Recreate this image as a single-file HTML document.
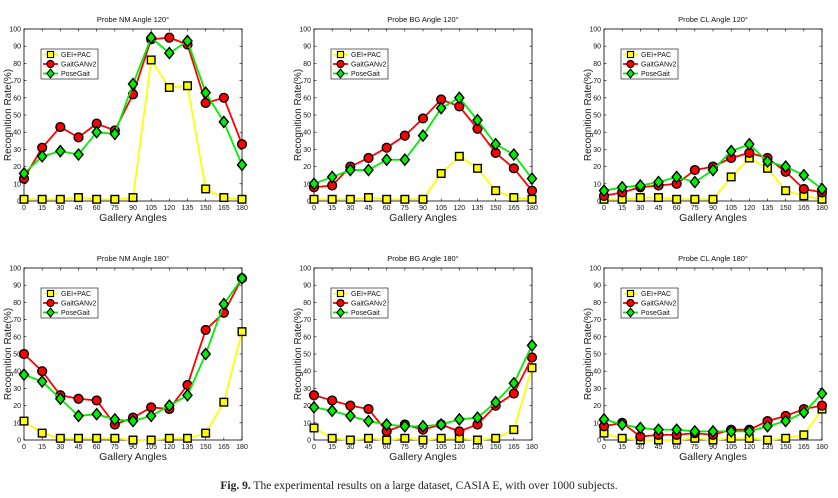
<!DOCTYPE html>
<html><head><meta charset="utf-8"><style>
html,body{margin:0;padding:0;background:#fff;}
svg{display:block;font-family:"Liberation Sans",sans-serif;}
</style></head><body>
<svg id="fig" width="838" height="498" viewBox="0 0 838 498">
<text x="419" y="489" text-anchor="middle" font-family="Liberation Serif" font-size="11.5" fill="#222"><tspan font-weight="bold">Fig. 9.</tspan>  The experimental results on a large dataset, CASIA E, with over 1000 subjects.</text>
</svg>
<script>
const categories = [0,15,30,45,60,75,90,105,120,135,150,165,180];
const yTicks = [0,10,20,30,40,50,60,70,80,90,100];
const seriesNames = ["GEI+PAC","GaitGANv2","PoseGait"];
const titles = ["Probe NM Angle 120°","Probe BG Angle 120°","Probe CL Angle 120°","Probe NM Angle 180°","Probe BG Angle 180°","Probe CL Angle 180°"];
const geiPac = [
 [1,1,1,2,1,1,2,82,66,67,7,2,1],
 [1,1,1,2,1,1,1,16,26,19,6,2,1],
 [1,1,2,2,1,1,1,14,25,19,6,3,1],
 [11,4,1,1,1,1,0,0,1,1,4,22,63],
 [7,1,0,1,0,1,0,1,1,0,1,6,42],
 [4,1,0,0,0,1,0,1,1,0,1,3,18]];
const gaitGan = [
 [13,31,43,37,45,41,62,94,95,91,57,60,33],
 [8,9,20,25,31,38,48,59,55,42,28,19,6],
 [3,5,8,9,10,18,20,25,28,25,17,7,5],
 [50,40,26,24,23,9,13,19,18,32,64,74,94],
 [26,23,20,18,5,9,6,9,5,9,20,27,48],
 [8,10,2,3,3,4,3,6,6,11,14,18,20]];
const poseGait = [
 [16,26,29,27,40,39,68,95,86,93,63,46,21],
 [10,14,18,18,24,24,38,54,60,47,33,27,13],
 [6,8,9,11,14,11,18,29,33,23,20,15,7],
 [38,34,24,14,15,12,11,14,20,26,50,79,94],
 [19,17,14,11,9,8,8,9,12,13,22,33,55],
 [12,9,7,6,6,5,5,5,5,8,11,16,27]];

const NS="http://www.w3.org/2000/svg";
const svg=document.getElementById('fig');
function mk(tag,attrs,parent){const e=document.createElementNS(NS,tag);for(const k in attrs)e.setAttribute(k,attrs[k]);(parent||svg).appendChild(e);return e;}
const lefts=[24,314,604], tops=[29,268], W=218, H=172;
const colors=["#ffff00","#ff0000","#00ee00"];
function marker(g,kind,x,y,c){
  let e;
  if(kind===0) e=mk('rect',{x:x-3.8,y:y-3.8,width:7.6,height:7.6,fill:c,stroke:'#000','stroke-width':1.4},g);
  else if(kind===1) e=mk('circle',{cx:x,cy:y,r:4.4,fill:c,stroke:'#000','stroke-width':1.4},g);
  else e=mk('polygon',{points:`${x},${y-5.5} ${x+4.5},${y} ${x},${y+5.5} ${x-4.5},${y}`,fill:c,stroke:'#000','stroke-width':1.4},g);
  return e;
}
for(let p=0;p<6;p++){
  const L=lefts[p%3], T=tops[Math.floor(p/3)];
  const xs=v=>L+v/180*W, ys=v=>T+H-v/100*H;
  const g=mk('g',{});
  
  
  const bg=mk('rect',{x:L,y:T,width:W,height:H,fill:'#fff',stroke:'#000','stroke-width':0.8},g);
  
  
  const t=mk('text',{x:L+W/2,y:T-7,'text-anchor':'middle','font-size':7.5,fill:'#111'},g);
  t.textContent=titles[p];
  
  
  yTicks.forEach(v=>{
    mk('line',{x1:L,x2:L+2.5,y1:ys(v),y2:ys(v),stroke:'#000','stroke-width':0.6},g);
    mk('line',{x1:L+W,x2:L+W-2.5,y1:ys(v),y2:ys(v),stroke:'#000','stroke-width':0.6},g);
    const tl=mk('text',{x:L-3,y:ys(v)+2.5,'text-anchor':'end','font-size':7,fill:'#111'},g);
    tl.textContent=v;
    
    
  });
  categories.forEach(v=>{
    mk('line',{x1:xs(v),x2:xs(v),y1:T+H,y2:T+H-2.5,stroke:'#000','stroke-width':0.6},g);
    mk('line',{x1:xs(v),x2:xs(v),y1:T,y2:T+2.5,stroke:'#000','stroke-width':0.6},g);
    const tl=mk('text',{x:xs(v),y:T+H+9,'text-anchor':'middle','font-size':7,fill:'#111'},g);
    tl.textContent=v;
    
    
  });
  const xl=mk('text',{x:L+W/2,y:T+H+20,'text-anchor':'middle','font-size':10.5,fill:'#222'},g);
  xl.textContent='Gallery Angles';
  
  
  const yl=mk('text',{x:0,y:0,'text-anchor':'middle','font-size':10,fill:'#222',transform:`translate(${L-13},${T+H/2}) rotate(-90)`},g);
  yl.textContent='Recognition Rate(%)';
  
  
  const data=[geiPac[p],gaitGan[p],poseGait[p]];
  data.forEach((arr,s)=>{
    const sg=mk('g',{},g);
    
    
    const pl=mk('polyline',{points:arr.map((v,i)=>xs(categories[i])+','+ys(v)).join(' '),fill:'none',stroke:colors[s],'stroke-width':1.8},sg);
    
    
    arr.forEach((v,i)=>{
      const m=marker(sg,s,xs(categories[i]),ys(v),colors[s]);
      
      
    });
  });
  const lg=mk('g',{},g);
  
  
  const lx=L+17, ly=T+20;
  mk('rect',{x:lx,y:ly,width:57,height:30,fill:'#fff',stroke:'#000','stroke-width':0.6},lg);
  seriesNames.forEach((n,s)=>{
    const yy=ly+5.5+s*9.5;
    const eg=mk('g',{},lg);
    
    
    mk('line',{x1:lx+2,x2:lx+17,y1:yy,y2:yy,stroke:colors[s],'stroke-width':1.8},eg);
    const m=marker(eg,s,lx+9.5,yy,colors[s]);
    m.setAttribute('transform',`translate(${(lx+9.5)*0.2},${yy*0.2}) scale(0.8)`);
    const tx=mk('text',{x:lx+20,y:yy+2.5,'font-size':7,fill:'#111'},eg);
    tx.textContent=n;
  });
}
</script>
</body></html>
